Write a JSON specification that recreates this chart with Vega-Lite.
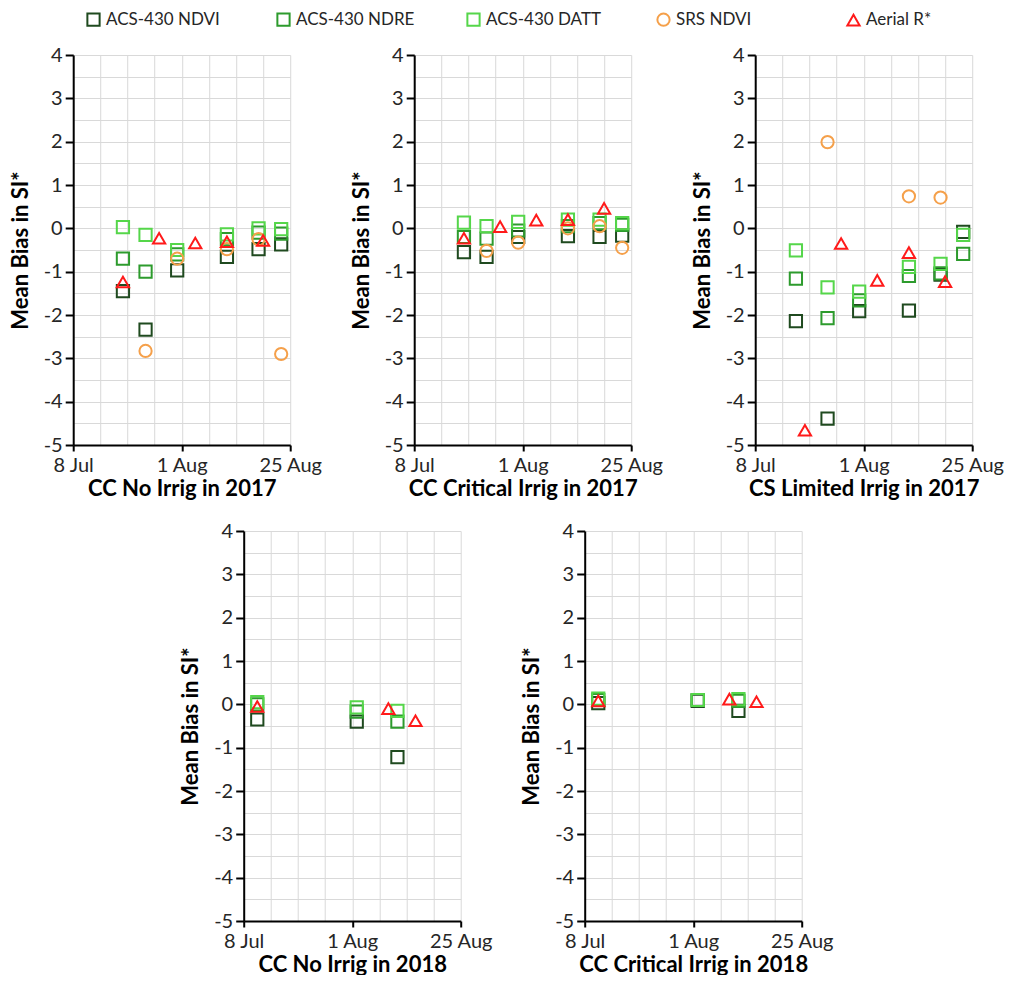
{
  "$schema": "https://vega.github.io/schema/vega-lite/v6.json",
  "padding": {"left": 9, "top": 11, "right": 0, "bottom": 0},
  "background": "white",
  "data": {"name": "pts"},
  "datasets": {
    "pts": [
      {"panel": "p1", "date": "2017/07/19", "series": "ACS-430 NDVI", "bias": -1.45},
      {"panel": "p1", "date": "2017/07/24", "series": "ACS-430 NDVI", "bias": -2.34},
      {"panel": "p1", "date": "2017/07/31", "series": "ACS-430 NDVI", "bias": -0.97},
      {"panel": "p1", "date": "2017/08/11", "series": "ACS-430 NDVI", "bias": -0.66},
      {"panel": "p1", "date": "2017/08/18", "series": "ACS-430 NDVI", "bias": -0.48},
      {"panel": "p1", "date": "2017/08/23", "series": "ACS-430 NDVI", "bias": -0.37},
      {"panel": "p1", "date": "2017/07/19", "series": "ACS-430 NDRE", "bias": -0.7},
      {"panel": "p1", "date": "2017/07/24", "series": "ACS-430 NDRE", "bias": -1.0},
      {"panel": "p1", "date": "2017/07/31", "series": "ACS-430 NDRE", "bias": -0.6},
      {"panel": "p1", "date": "2017/08/11", "series": "ACS-430 NDRE", "bias": -0.25},
      {"panel": "p1", "date": "2017/08/18", "series": "ACS-430 NDRE", "bias": -0.1},
      {"panel": "p1", "date": "2017/08/23", "series": "ACS-430 NDRE", "bias": -0.12},
      {"panel": "p1", "date": "2017/07/19", "series": "ACS-430 DATT", "bias": 0.03},
      {"panel": "p1", "date": "2017/07/24", "series": "ACS-430 DATT", "bias": -0.15},
      {"panel": "p1", "date": "2017/07/31", "series": "ACS-430 DATT", "bias": -0.5},
      {"panel": "p1", "date": "2017/08/11", "series": "ACS-430 DATT", "bias": -0.14},
      {"panel": "p1", "date": "2017/08/18", "series": "ACS-430 DATT", "bias": 0.0},
      {"panel": "p1", "date": "2017/08/23", "series": "ACS-430 DATT", "bias": -0.02},
      {"panel": "p1", "date": "2017/07/24", "series": "SRS NDVI", "bias": -2.83},
      {"panel": "p1", "date": "2017/07/31", "series": "SRS NDVI", "bias": -0.7},
      {"panel": "p1", "date": "2017/08/11", "series": "SRS NDVI", "bias": -0.48},
      {"panel": "p1", "date": "2017/08/18", "series": "SRS NDVI", "bias": -0.25},
      {"panel": "p1", "date": "2017/08/23", "series": "SRS NDVI", "bias": -2.9},
      {"panel": "p1", "date": "2017/07/19", "series": "Aerial R*", "bias": -1.24},
      {"panel": "p1", "date": "2017/07/27", "series": "Aerial R*", "bias": -0.23},
      {"panel": "p1", "date": "2017/08/04", "series": "Aerial R*", "bias": -0.34},
      {"panel": "p1", "date": "2017/08/11", "series": "Aerial R*", "bias": -0.31},
      {"panel": "p1", "date": "2017/08/19", "series": "Aerial R*", "bias": -0.28},

      {"panel": "p2", "date": "2017/07/19", "series": "ACS-430 NDVI", "bias": -0.55},
      {"panel": "p2", "date": "2017/07/24", "series": "ACS-430 NDVI", "bias": -0.66},
      {"panel": "p2", "date": "2017/07/31", "series": "ACS-430 NDVI", "bias": -0.2},
      {"panel": "p2", "date": "2017/08/11", "series": "ACS-430 NDVI", "bias": -0.18},
      {"panel": "p2", "date": "2017/08/18", "series": "ACS-430 NDVI", "bias": -0.2},
      {"panel": "p2", "date": "2017/08/23", "series": "ACS-430 NDVI", "bias": -0.17},
      {"panel": "p2", "date": "2017/07/19", "series": "ACS-430 NDRE", "bias": -0.2},
      {"panel": "p2", "date": "2017/07/24", "series": "ACS-430 NDRE", "bias": -0.24},
      {"panel": "p2", "date": "2017/07/31", "series": "ACS-430 NDRE", "bias": -0.05},
      {"panel": "p2", "date": "2017/08/11", "series": "ACS-430 NDRE", "bias": 0.05},
      {"panel": "p2", "date": "2017/08/18", "series": "ACS-430 NDRE", "bias": 0.12},
      {"panel": "p2", "date": "2017/08/23", "series": "ACS-430 NDRE", "bias": 0.08},
      {"panel": "p2", "date": "2017/07/19", "series": "ACS-430 DATT", "bias": 0.13},
      {"panel": "p2", "date": "2017/07/24", "series": "ACS-430 DATT", "bias": 0.05},
      {"panel": "p2", "date": "2017/07/31", "series": "ACS-430 DATT", "bias": 0.15},
      {"panel": "p2", "date": "2017/08/11", "series": "ACS-430 DATT", "bias": 0.2},
      {"panel": "p2", "date": "2017/08/18", "series": "ACS-430 DATT", "bias": 0.2},
      {"panel": "p2", "date": "2017/08/23", "series": "ACS-430 DATT", "bias": 0.12},
      {"panel": "p2", "date": "2017/07/24", "series": "SRS NDVI", "bias": -0.52},
      {"panel": "p2", "date": "2017/07/31", "series": "SRS NDVI", "bias": -0.33},
      {"panel": "p2", "date": "2017/08/11", "series": "SRS NDVI", "bias": 0.0},
      {"panel": "p2", "date": "2017/08/18", "series": "SRS NDVI", "bias": 0.05},
      {"panel": "p2", "date": "2017/08/23", "series": "SRS NDVI", "bias": -0.45},
      {"panel": "p2", "date": "2017/07/19", "series": "Aerial R*", "bias": -0.23},
      {"panel": "p2", "date": "2017/07/27", "series": "Aerial R*", "bias": 0.04},
      {"panel": "p2", "date": "2017/08/04", "series": "Aerial R*", "bias": 0.19},
      {"panel": "p2", "date": "2017/08/11", "series": "Aerial R*", "bias": 0.2},
      {"panel": "p2", "date": "2017/08/19", "series": "Aerial R*", "bias": 0.46},

      {"panel": "p3", "date": "2017/07/17", "series": "ACS-430 NDVI", "bias": -2.14},
      {"panel": "p3", "date": "2017/07/24", "series": "ACS-430 NDVI", "bias": -4.39},
      {"panel": "p3", "date": "2017/07/31", "series": "ACS-430 NDVI", "bias": -1.91},
      {"panel": "p3", "date": "2017/08/11", "series": "ACS-430 NDVI", "bias": -1.9},
      {"panel": "p3", "date": "2017/08/18", "series": "ACS-430 NDVI", "bias": -1.07},
      {"panel": "p3", "date": "2017/08/23", "series": "ACS-430 NDVI", "bias": -0.08},
      {"panel": "p3", "date": "2017/07/17", "series": "ACS-430 NDRE", "bias": -1.16},
      {"panel": "p3", "date": "2017/07/24", "series": "ACS-430 NDRE", "bias": -2.07},
      {"panel": "p3", "date": "2017/07/31", "series": "ACS-430 NDRE", "bias": -1.66},
      {"panel": "p3", "date": "2017/08/11", "series": "ACS-430 NDRE", "bias": -1.1},
      {"panel": "p3", "date": "2017/08/18", "series": "ACS-430 NDRE", "bias": -1.04},
      {"panel": "p3", "date": "2017/08/23", "series": "ACS-430 NDRE", "bias": -0.59},
      {"panel": "p3", "date": "2017/07/17", "series": "ACS-430 DATT", "bias": -0.51},
      {"panel": "p3", "date": "2017/07/24", "series": "ACS-430 DATT", "bias": -1.36},
      {"panel": "p3", "date": "2017/07/31", "series": "ACS-430 DATT", "bias": -1.46},
      {"panel": "p3", "date": "2017/08/11", "series": "ACS-430 DATT", "bias": -0.89},
      {"panel": "p3", "date": "2017/08/18", "series": "ACS-430 DATT", "bias": -0.82},
      {"panel": "p3", "date": "2017/08/23", "series": "ACS-430 DATT", "bias": -0.15},
      {"panel": "p3", "date": "2017/07/24", "series": "SRS NDVI", "bias": 1.99},
      {"panel": "p3", "date": "2017/08/11", "series": "SRS NDVI", "bias": 0.74},
      {"panel": "p3", "date": "2017/08/18", "series": "SRS NDVI", "bias": 0.71},
      {"panel": "p3", "date": "2017/07/19", "series": "Aerial R*", "bias": -4.66},
      {"panel": "p3", "date": "2017/07/27", "series": "Aerial R*", "bias": -0.35},
      {"panel": "p3", "date": "2017/08/04", "series": "Aerial R*", "bias": -1.2},
      {"panel": "p3", "date": "2017/08/11", "series": "Aerial R*", "bias": -0.56},
      {"panel": "p3", "date": "2017/08/19", "series": "Aerial R*", "bias": -1.23},

      {"panel": "p4", "date": "2018/07/11", "series": "ACS-430 NDVI", "bias": -0.35},
      {"panel": "p4", "date": "2018/08/02", "series": "ACS-430 NDVI", "bias": -0.4},
      {"panel": "p4", "date": "2018/08/11", "series": "ACS-430 NDVI", "bias": -1.22},
      {"panel": "p4", "date": "2018/07/11", "series": "ACS-430 NDRE", "bias": 0.0},
      {"panel": "p4", "date": "2018/08/02", "series": "ACS-430 NDRE", "bias": -0.17},
      {"panel": "p4", "date": "2018/08/11", "series": "ACS-430 NDRE", "bias": -0.4},
      {"panel": "p4", "date": "2018/07/11", "series": "ACS-430 DATT", "bias": 0.05},
      {"panel": "p4", "date": "2018/08/02", "series": "ACS-430 DATT", "bias": -0.07},
      {"panel": "p4", "date": "2018/08/11", "series": "ACS-430 DATT", "bias": -0.15},
      {"panel": "p4", "date": "2018/07/11", "series": "Aerial R*", "bias": -0.05},
      {"panel": "p4", "date": "2018/08/09", "series": "Aerial R*", "bias": -0.1},
      {"panel": "p4", "date": "2018/08/15", "series": "Aerial R*", "bias": -0.38},

      {"panel": "p5", "date": "2018/07/11", "series": "ACS-430 NDVI", "bias": 0.03},
      {"panel": "p5", "date": "2018/08/02", "series": "ACS-430 NDVI", "bias": 0.08},
      {"panel": "p5", "date": "2018/08/11", "series": "ACS-430 NDVI", "bias": -0.15},
      {"panel": "p5", "date": "2018/07/11", "series": "ACS-430 NDRE", "bias": 0.1},
      {"panel": "p5", "date": "2018/08/02", "series": "ACS-430 NDRE", "bias": 0.1},
      {"panel": "p5", "date": "2018/08/11", "series": "ACS-430 NDRE", "bias": 0.08},
      {"panel": "p5", "date": "2018/07/11", "series": "ACS-430 DATT", "bias": 0.13},
      {"panel": "p5", "date": "2018/08/02", "series": "ACS-430 DATT", "bias": 0.1},
      {"panel": "p5", "date": "2018/08/11", "series": "ACS-430 DATT", "bias": 0.12},
      {"panel": "p5", "date": "2018/07/11", "series": "Aerial R*", "bias": 0.08},
      {"panel": "p5", "date": "2018/08/09", "series": "Aerial R*", "bias": 0.12},
      {"panel": "p5", "date": "2018/08/15", "series": "Aerial R*", "bias": 0.06}
    ]
  },
  "config": {
    "font": "Lato",
    "view": {"stroke": null},
    "axis": {
      "domainColor": "black", "domainWidth": 2,
      "gridColor": "#d9d9d9", "gridWidth": 1,
      "tickColor": "black", "tickWidth": 2,
      "labelFont": "Lato", "labelFontSize": 20, "labelColor": "#262626",
      "titleFont": "Lato", "titleFontSize": 22, "titleFontWeight": "bold", "titleColor": "black",
      "labelOverlap": false
    },
    "axisX": {"tickSize": 6, "labelPadding": 4, "titlePadding": 3, "labelFlush": false},
    "axisY": {"tickSize": 8, "labelPadding": 3, "titlePadding": 11}
  },
  "spacing": 22,
  "center": true,
  "resolve": {"scale": {"color": "shared", "shape": "shared"}},
  "vconcat": [
    {
      "spacing": 27,
      "hconcat": [
        {
          "width": 217, "height": 390,
          "transform": [{"filter": "datum.panel == 'p1'"}],
          "mark": {"type": "point", "filled": false, "strokeWidth": 2, "size": 150, "opacity": 1},
          "encoding": {
            "x": {"field": "date", "type": "temporal", "title": "CC No Irrig in 2017",
              "scale": {"domain": [{"year": 2017, "month": 7, "date": 8}, {"year": 2017, "month": 8, "date": 25}]},
              "axis": {
                "values": [{"year": 2017, "month": 7, "date": 8}, {"year": 2017, "month": 7, "date": 14}, {"year": 2017, "month": 7, "date": 20}, {"year": 2017, "month": 7, "date": 26}, {"year": 2017, "month": 8, "date": 1}, {"year": 2017, "month": 8, "date": 7}, {"year": 2017, "month": 8, "date": 13}, {"year": 2017, "month": 8, "date": 19}, {"year": 2017, "month": 8, "date": 25}],
                "labelExpr": "indexof(['8 Jul','1 Aug','25 Aug'], timeFormat(datum.value, '%-d %b')) >= 0 ? timeFormat(datum.value, '%-d %b') : ''",
                "tickOpacity": {"condition": {"test": "indexof(['8 Jul','1 Aug','25 Aug'], timeFormat(datum.value, '%-d %b')) >= 0", "value": 1}, "value": 0}
              }},
            "y": {"field": "bias", "type": "quantitative", "title": "Mean Bias in SI*",
              "scale": {"domain": [-5, 4], "nice": false},
              "axis": {
                "values": [-5, -4.5, -4, -3.5, -3, -2.5, -2, -1.5, -1, -0.5, 0, 0.5, 1, 1.5, 2, 2.5, 3, 3.5, 4],
                "labelExpr": "datum.value % 1 == 0 ? '' + datum.value : ''",
                "tickOpacity": {"condition": {"test": "datum.value % 1 == 0", "value": 1}, "value": 0}
              }},
            "color": {"field": "series", "type": "nominal",
              "scale": {"domain": ["ACS-430 NDVI", "ACS-430 NDRE", "ACS-430 DATT", "SRS NDVI", "Aerial R*"], "range": ["#1f4a1f", "#2d9b2d", "#55d64a", "#f5a04a", "#ff1a1a"]},
              "legend": {"title": null, "orient": "none", "legendX": 12, "legendY": -44, "direction": "horizontal", "columns": 5, "gridAlign": "all", "columnPadding": 48, "symbolSize": 150, "symbolStrokeWidth": 2, "labelFontSize": 17, "labelFont": "Lato", "labelColor": "#262626", "labelLimit": 400, "padding": 0}},
            "shape": {"field": "series", "type": "nominal",
              "scale": {"domain": ["ACS-430 NDVI", "ACS-430 NDRE", "ACS-430 DATT", "SRS NDVI", "Aerial R*"], "range": ["square", "square", "square", "circle", "triangle-up"]},
              "legend": {"title": null, "orient": "none", "legendX": 12, "legendY": -44, "direction": "horizontal", "columns": 5, "gridAlign": "all", "columnPadding": 48, "symbolSize": 150, "symbolStrokeWidth": 2, "labelFontSize": 17, "labelFont": "Lato", "labelColor": "#262626", "labelLimit": 400, "padding": 0}}
          }
        },
        {
          "width": 217, "height": 390,
          "transform": [{"filter": "datum.panel == 'p2'"}],
          "mark": {"type": "point", "filled": false, "strokeWidth": 2, "size": 150, "opacity": 1},
          "encoding": {
            "x": {"field": "date", "type": "temporal", "title": "CC Critical Irrig in 2017",
              "scale": {"domain": [{"year": 2017, "month": 7, "date": 8}, {"year": 2017, "month": 8, "date": 25}]},
              "axis": {
                "values": [{"year": 2017, "month": 7, "date": 8}, {"year": 2017, "month": 7, "date": 14}, {"year": 2017, "month": 7, "date": 20}, {"year": 2017, "month": 7, "date": 26}, {"year": 2017, "month": 8, "date": 1}, {"year": 2017, "month": 8, "date": 7}, {"year": 2017, "month": 8, "date": 13}, {"year": 2017, "month": 8, "date": 19}, {"year": 2017, "month": 8, "date": 25}],
                "labelExpr": "indexof(['8 Jul','1 Aug','25 Aug'], timeFormat(datum.value, '%-d %b')) >= 0 ? timeFormat(datum.value, '%-d %b') : ''",
                "tickOpacity": {"condition": {"test": "indexof(['8 Jul','1 Aug','25 Aug'], timeFormat(datum.value, '%-d %b')) >= 0", "value": 1}, "value": 0}
              }},
            "y": {"field": "bias", "type": "quantitative", "title": "Mean Bias in SI*",
              "scale": {"domain": [-5, 4], "nice": false},
              "axis": {
                "values": [-5, -4.5, -4, -3.5, -3, -2.5, -2, -1.5, -1, -0.5, 0, 0.5, 1, 1.5, 2, 2.5, 3, 3.5, 4],
                "labelExpr": "datum.value % 1 == 0 ? '' + datum.value : ''",
                "tickOpacity": {"condition": {"test": "datum.value % 1 == 0", "value": 1}, "value": 0}
              }},
            "color": {"field": "series", "type": "nominal"},
            "shape": {"field": "series", "type": "nominal"}
          }
        },
        {
          "width": 217, "height": 390,
          "transform": [{"filter": "datum.panel == 'p3'"}],
          "mark": {"type": "point", "filled": false, "strokeWidth": 2, "size": 150, "opacity": 1},
          "encoding": {
            "x": {"field": "date", "type": "temporal", "title": "CS Limited Irrig in 2017",
              "scale": {"domain": [{"year": 2017, "month": 7, "date": 8}, {"year": 2017, "month": 8, "date": 25}]},
              "axis": {
                "values": [{"year": 2017, "month": 7, "date": 8}, {"year": 2017, "month": 7, "date": 14}, {"year": 2017, "month": 7, "date": 20}, {"year": 2017, "month": 7, "date": 26}, {"year": 2017, "month": 8, "date": 1}, {"year": 2017, "month": 8, "date": 7}, {"year": 2017, "month": 8, "date": 13}, {"year": 2017, "month": 8, "date": 19}, {"year": 2017, "month": 8, "date": 25}],
                "labelExpr": "indexof(['8 Jul','1 Aug','25 Aug'], timeFormat(datum.value, '%-d %b')) >= 0 ? timeFormat(datum.value, '%-d %b') : ''",
                "tickOpacity": {"condition": {"test": "indexof(['8 Jul','1 Aug','25 Aug'], timeFormat(datum.value, '%-d %b')) >= 0", "value": 1}, "value": 0}
              }},
            "y": {"field": "bias", "type": "quantitative", "title": "Mean Bias in SI*",
              "scale": {"domain": [-5, 4], "nice": false},
              "axis": {
                "values": [-5, -4.5, -4, -3.5, -3, -2.5, -2, -1.5, -1, -0.5, 0, 0.5, 1, 1.5, 2, 2.5, 3, 3.5, 4],
                "labelExpr": "datum.value % 1 == 0 ? '' + datum.value : ''",
                "tickOpacity": {"condition": {"test": "datum.value % 1 == 0", "value": 1}, "value": 0}
              }},
            "color": {"field": "series", "type": "nominal"},
            "shape": {"field": "series", "type": "nominal"}
          }
        }
      ]
    },
    {
      "spacing": 27,
      "hconcat": [
        {
          "width": 217, "height": 390,
          "transform": [{"filter": "datum.panel == 'p4'"}],
          "mark": {"type": "point", "filled": false, "strokeWidth": 2, "size": 150, "opacity": 1},
          "encoding": {
            "x": {"field": "date", "type": "temporal", "title": "CC No Irrig in 2018",
              "scale": {"domain": [{"year": 2018, "month": 7, "date": 8}, {"year": 2018, "month": 8, "date": 25}]},
              "axis": {
                "values": [{"year": 2018, "month": 7, "date": 8}, {"year": 2018, "month": 7, "date": 14}, {"year": 2018, "month": 7, "date": 20}, {"year": 2018, "month": 7, "date": 26}, {"year": 2018, "month": 8, "date": 1}, {"year": 2018, "month": 8, "date": 7}, {"year": 2018, "month": 8, "date": 13}, {"year": 2018, "month": 8, "date": 19}, {"year": 2018, "month": 8, "date": 25}],
                "labelExpr": "indexof(['8 Jul','1 Aug','25 Aug'], timeFormat(datum.value, '%-d %b')) >= 0 ? timeFormat(datum.value, '%-d %b') : ''",
                "tickOpacity": {"condition": {"test": "indexof(['8 Jul','1 Aug','25 Aug'], timeFormat(datum.value, '%-d %b')) >= 0", "value": 1}, "value": 0}
              }},
            "y": {"field": "bias", "type": "quantitative", "title": "Mean Bias in SI*",
              "scale": {"domain": [-5, 4], "nice": false},
              "axis": {
                "values": [-5, -4.5, -4, -3.5, -3, -2.5, -2, -1.5, -1, -0.5, 0, 0.5, 1, 1.5, 2, 2.5, 3, 3.5, 4],
                "labelExpr": "datum.value % 1 == 0 ? '' + datum.value : ''",
                "tickOpacity": {"condition": {"test": "datum.value % 1 == 0", "value": 1}, "value": 0}
              }},
            "color": {"field": "series", "type": "nominal"},
            "shape": {"field": "series", "type": "nominal"}
          }
        },
        {
          "width": 217, "height": 390,
          "transform": [{"filter": "datum.panel == 'p5'"}],
          "mark": {"type": "point", "filled": false, "strokeWidth": 2, "size": 150, "opacity": 1},
          "encoding": {
            "x": {"field": "date", "type": "temporal", "title": "CC Critical Irrig in 2018",
              "scale": {"domain": [{"year": 2018, "month": 7, "date": 8}, {"year": 2018, "month": 8, "date": 25}]},
              "axis": {
                "values": [{"year": 2018, "month": 7, "date": 8}, {"year": 2018, "month": 7, "date": 14}, {"year": 2018, "month": 7, "date": 20}, {"year": 2018, "month": 7, "date": 26}, {"year": 2018, "month": 8, "date": 1}, {"year": 2018, "month": 8, "date": 7}, {"year": 2018, "month": 8, "date": 13}, {"year": 2018, "month": 8, "date": 19}, {"year": 2018, "month": 8, "date": 25}],
                "labelExpr": "indexof(['8 Jul','1 Aug','25 Aug'], timeFormat(datum.value, '%-d %b')) >= 0 ? timeFormat(datum.value, '%-d %b') : ''",
                "tickOpacity": {"condition": {"test": "indexof(['8 Jul','1 Aug','25 Aug'], timeFormat(datum.value, '%-d %b')) >= 0", "value": 1}, "value": 0}
              }},
            "y": {"field": "bias", "type": "quantitative", "title": "Mean Bias in SI*",
              "scale": {"domain": [-5, 4], "nice": false},
              "axis": {
                "values": [-5, -4.5, -4, -3.5, -3, -2.5, -2, -1.5, -1, -0.5, 0, 0.5, 1, 1.5, 2, 2.5, 3, 3.5, 4],
                "labelExpr": "datum.value % 1 == 0 ? '' + datum.value : ''",
                "tickOpacity": {"condition": {"test": "datum.value % 1 == 0", "value": 1}, "value": 0}
              }},
            "color": {"field": "series", "type": "nominal"},
            "shape": {"field": "series", "type": "nominal"}
          }
        }
      ]
    }
  ]
}
